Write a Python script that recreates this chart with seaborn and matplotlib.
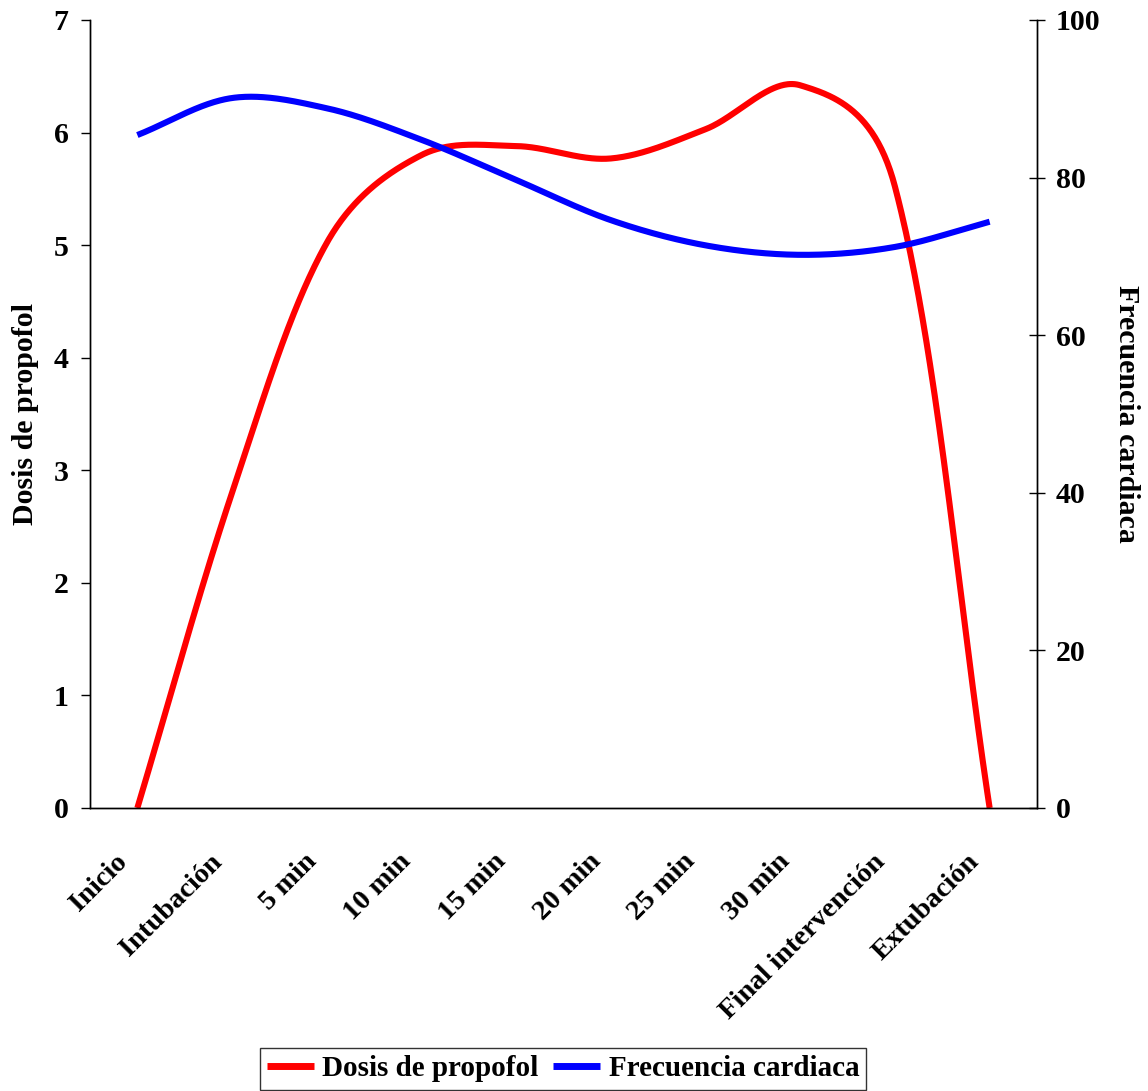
import numpy as np
import pandas as pd
import matplotlib
matplotlib.use("Agg")
import matplotlib.pyplot as plt
import matplotlib.transforms as mtransforms
import seaborn as sns

# ---- data ----
categories = ["Inicio", "Intubación", "5 min", "10 min", "15 min", "20 min",
              "25 min", "30 min", "Final intervención", "Extubación"]
dosis_propofol = [0.0, 2.8, 5.02, 5.8, 5.88, 5.77, 6.03, 6.42, 5.52, 0.0]
frecuencia_cardiaca = [85.4, 90.1, 88.8, 84.8, 79.7, 74.6, 71.4, 70.2, 71.2, 74.4]
left_ticks = [0, 1, 2, 3, 4, 5, 6, 7]
right_ticks = [0, 20, 40, 60, 80, 100]

sns.set_style("white")
plt.rcParams["font.family"] = ["Liberation Serif", "DejaVu Serif"]
plt.rcParams["font.weight"] = "bold"
plt.rcParams["text.color"] = "black"
plt.rcParams["xtick.color"] = "black"
plt.rcParams["ytick.color"] = "black"
plt.rcParams["axes.labelcolor"] = "black"

W, H = 1148, 1091
AX_L, AX_R, AX_T, AX_B = 90, 1037, 20, 808
FS = 21.5
FS_X = 20.5
FS_LEG = 21


def smooth_curve(values, ymax, n=80):
    """Excel-like smoothed line: cubic Bezier through every point, tangent
    arms weighted by the (square-rooted) neighbouring segment lengths on screen."""
    y = np.asarray(values, dtype=float)
    x = np.arange(len(y), dtype=float)
    sx = (AX_R - AX_L) / len(y)
    sy = (AX_B - AX_T) / ymax
    pts = np.column_stack([x * sx, y * sy])
    ext = np.vstack([pts[0], pts, pts[-1]])
    t = np.linspace(0, 1, n)[:, None]
    out = []
    for i in range(len(pts) - 1):
        p0, p1, p2, p3 = ext[i], ext[i + 1], ext[i + 2], ext[i + 3]
        r01 = np.sqrt(np.linalg.norm(p1 - p0))
        r12 = np.sqrt(np.linalg.norm(p2 - p1))
        r23 = np.sqrt(np.linalg.norm(p3 - p2))
        c1 = p1 + (p2 - p0) * (r12 / (r01 + r12)) / 3.0
        c2 = p2 - (p3 - p1) * (r12 / (r12 + r23)) / 3.0
        seg = ((1 - t) ** 3) * p1 + 3 * ((1 - t) ** 2) * t * c1 + 3 * (1 - t) * t ** 2 * c2 + t ** 3 * p2
        out.append(seg if i == 0 else seg[1:])
    arr = np.vstack(out)
    return pd.DataFrame({"x": arr[:, 0] / sx, "y": arr[:, 1] / sy})


fig = plt.figure(figsize=(W / 100, H / 100), dpi=100)
ax = fig.add_axes([AX_L / W, 1 - AX_B / H, (AX_R - AX_L) / W, (AX_B - AX_T) / H])
ax2 = ax.twinx()

red_df = smooth_curve(dosis_propofol, 7)
blue_df = smooth_curve(frecuencia_cardiaca, 100)
sns.lineplot(data=red_df, x="x", y="y", ax=ax, color="#ff0000", lw=4.4,
             sort=False, estimator=None, legend=False, solid_capstyle="butt")
sns.lineplot(data=blue_df, x="x", y="y", ax=ax2, color="#0000ff", lw=4.4,
             sort=False, estimator=None, legend=False, solid_capstyle="butt")

# x axis
ax.set_xlim(-0.5, len(categories) - 0.5)
ax.set_xticks(range(len(categories)))
ax.set_xticklabels(categories, rotation=45, ha="right", va="center",
                   rotation_mode="anchor", fontsize=FS_X, fontweight="bold")
ax.set_xticks(np.arange(-0.5, len(categories), 1.0), minor=True)
ax.tick_params(axis="x", which="major", length=0, pad=36)
ax.tick_params(axis="x", which="minor", length=7.5, width=1, direction="out", color="black")
shift = mtransforms.ScaledTranslation(-14 / 100, 0, fig.dpi_scale_trans)
for lab in ax.get_xticklabels():
    lab.set_transform(lab.get_transform() + shift)

# left y axis
ax.set_ylim(0, 7)
ax.set_yticks(left_ticks)
ax.set_yticklabels([str(v) for v in left_ticks], fontsize=FS, fontweight="bold")
ax.tick_params(axis="y", which="major", length=6.5, width=1, direction="out",
               pad=9, color="black", left=True)
ax.set_ylabel("Dosis de propofol", fontsize=FS, fontweight="bold")
ax.yaxis.set_label_coords(-0.054, 0.5)
ax.set_xlabel("")

# right y axis
ax2.set_ylim(0, 100)
ax2.set_yticks(right_ticks)
ax2.set_yticklabels([str(v) for v in right_ticks], fontsize=FS, fontweight="bold")
ax2.tick_params(axis="y", which="major", length=11.5, width=1, direction="inout",
                pad=8, color="black", right=True)
ax2.set_ylabel("Frecuencia cardiaca", fontsize=FS, fontweight="bold", rotation=270,
               va="bottom")
ax2.yaxis.set_label_coords(1.080, 0.5)
ax2.set_xlabel("")

for a in (ax, ax2):
    a.spines["top"].set_visible(False)
    for s in ("left", "right", "bottom"):
        a.spines[s].set_color("black")
        a.spines[s].set_linewidth(1)
    a.grid(False)

# legend
handles = [plt.Line2D([], [], color="#ff0000", lw=5, solid_capstyle="butt"),
           plt.Line2D([], [], color="#0000ff", lw=5, solid_capstyle="butt")]
leg = fig.legend(handles, ["Dosis de propofol", "Frecuencia cardiaca"],
                 loc="center", bbox_to_anchor=(563 / W, 1 - 1069 / H), ncol=2,
                 frameon=True, fancybox=False, edgecolor="black",
                 prop={"family": "Liberation Serif", "weight": "bold", "size": FS_LEG},
                 handlelength=1.6, handletextpad=0.3, columnspacing=0.5,
                 borderpad=0.25, borderaxespad=0)
leg.get_frame().set_linewidth(1)

fig.savefig("out.png", dpi=100)
